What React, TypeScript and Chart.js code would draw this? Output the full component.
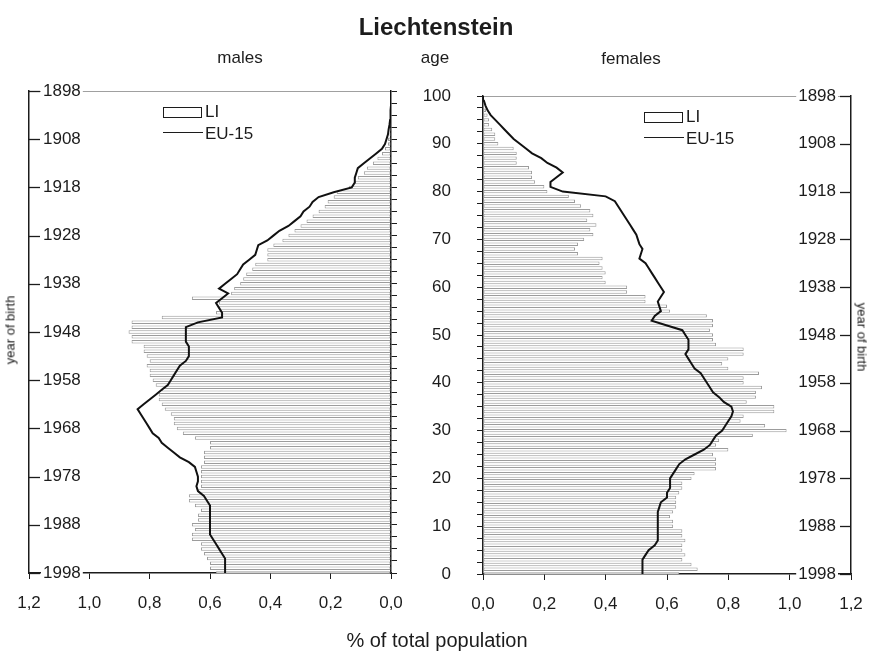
import React, { useEffect, useRef } from 'react';
import { Chart, registerables } from 'chart.js';

Chart.register(...registerables);

// ---------- data (index = age in years, 0..100) ----------
const ages: number[] = Array.from({ length: 101 }, (_, i) => i);

const malesLI: number[] = [
  0.58, 0.60, 0.60, 0.61, 0.62, 0.63, 0.63, 0.66, 0.66, 0.65,
  0.66, 0.64, 0.64, 0.63, 0.65, 0.67, 0.67, 0.64, 0.63, 0.63,
  0.63, 0.63, 0.63, 0.62, 0.62, 0.62, 0.60, 0.60, 0.65, 0.69,
  0.71, 0.72, 0.72, 0.73, 0.75, 0.76, 0.77, 0.77, 0.76, 0.78,
  0.79, 0.80, 0.80, 0.81, 0.80, 0.81, 0.82, 0.82, 0.86, 0.86,
  0.87, 0.86, 0.86, 0.76, 0.58, 0.57, 0.57, 0.66, 0.53, 0.52,
  0.50, 0.49, 0.48, 0.46, 0.45, 0.41, 0.41, 0.41, 0.39, 0.36,
  0.34, 0.32, 0.30, 0.28, 0.26, 0.24, 0.22, 0.21, 0.19, 0.18,
  0.14, 0.12, 0.11, 0.09, 0.08, 0.06, 0.045, 0.03, 0.02, 0.01,
  0.01, 0.005, 0.004, 0.003, 0.002, 0.002, 0.001, 0.001, 0, 0,
  0,
];

const malesEU15: number[] = [
  0.55, 0.55, 0.55, 0.55, 0.56, 0.57, 0.58, 0.59, 0.60, 0.60,
  0.60, 0.60, 0.60, 0.60, 0.60, 0.61, 0.62, 0.64, 0.645, 0.64,
  0.64, 0.645, 0.65, 0.67, 0.70, 0.72, 0.74, 0.76, 0.77, 0.79,
  0.80, 0.81, 0.82, 0.83, 0.84, 0.82, 0.80, 0.78, 0.76, 0.74,
  0.73, 0.72, 0.71, 0.70, 0.68, 0.67, 0.67, 0.67, 0.68, 0.68,
  0.68, 0.68, 0.64, 0.56, 0.56, 0.57, 0.58, 0.56, 0.54, 0.57,
  0.55, 0.53, 0.51, 0.50, 0.49, 0.47, 0.45, 0.445, 0.44, 0.41,
  0.39, 0.37, 0.34, 0.32, 0.30, 0.29, 0.27, 0.26, 0.24, 0.19,
  0.13, 0.12, 0.12, 0.115, 0.11, 0.09, 0.07, 0.05, 0.03, 0.02,
  0.015, 0.01, 0.008, 0.005, 0.003, 0.002, 0.001, 0, 0, 0,
  0,
];

const femalesLI: number[] = [
  0.64, 0.70, 0.68, 0.65, 0.66, 0.65, 0.65, 0.66, 0.65, 0.65,
  0.62, 0.62, 0.61, 0.62, 0.63, 0.63, 0.63, 0.64, 0.65, 0.65,
  0.68, 0.69, 0.76, 0.76, 0.76, 0.75, 0.80, 0.76, 0.77, 0.88,
  0.99, 0.92, 0.84, 0.85, 0.95, 0.95, 0.86, 0.89, 0.89, 0.91,
  0.85, 0.85, 0.90, 0.80, 0.78, 0.80, 0.85, 0.85, 0.76, 0.75,
  0.75, 0.74, 0.75, 0.75, 0.73, 0.61, 0.60, 0.53, 0.53, 0.47,
  0.47, 0.40, 0.39, 0.40, 0.39, 0.38, 0.39, 0.31, 0.30, 0.31,
  0.33, 0.36, 0.35, 0.37, 0.34, 0.36, 0.35, 0.32, 0.30, 0.28,
  0.21, 0.20, 0.17, 0.16, 0.16, 0.15, 0.11, 0.11, 0.11, 0.10,
  0.05, 0.04, 0.04, 0.03, 0.02, 0.02, 0.015, 0.01, 0.003, 0,
  0,
];

const femalesEU15: number[] = [
  0.52, 0.52, 0.52, 0.52, 0.53, 0.54, 0.56, 0.57, 0.57, 0.57,
  0.57, 0.57, 0.57, 0.57, 0.575, 0.58, 0.60, 0.60, 0.61, 0.61,
  0.61, 0.62, 0.63, 0.64, 0.66, 0.69, 0.72, 0.74, 0.75, 0.76,
  0.78, 0.79, 0.80, 0.81, 0.815, 0.81, 0.785, 0.77, 0.75, 0.74,
  0.73, 0.72, 0.71, 0.69, 0.68, 0.67, 0.66, 0.67, 0.67, 0.67,
  0.66, 0.65, 0.60, 0.55, 0.56, 0.58, 0.575, 0.57, 0.58, 0.59,
  0.58, 0.57, 0.56, 0.55, 0.54, 0.53, 0.51, 0.515, 0.52, 0.51,
  0.505, 0.50, 0.49, 0.48, 0.47, 0.46, 0.45, 0.44, 0.43, 0.40,
  0.26, 0.22, 0.22, 0.24, 0.26, 0.24, 0.21, 0.19, 0.16, 0.14,
  0.12, 0.10, 0.085, 0.07, 0.055, 0.04, 0.025, 0.015, 0.008, 0.003,
  0,
];

// tick labels
const xTickLabels: string[] = ['0,0', '0,2', '0,4', '0,6', '0,8', '1,0', '1,2'];
const ageLabels: string[] = ['0', '10', '20', '30', '40', '50', '60', '70', '80', '90', '100'];
const yearLabels: string[] = ['1998', '1988', '1978', '1968', '1958', '1948', '1938', '1928', '1918', '1908', '1898'];

const FONT = "'Liberation Sans', Arial, Helvetica, sans-serif";
const INK = '#1c1c1c';

// inward tick marks for the year-of-birth axes
const yearTickPlugin = {
  id: 'yearTicks',
  afterDraw(chart: any, _args: any, opts: any) {
    const s = chart.scales.year;
    if (!s) return;
    const ctx = chart.ctx;
    const dir = opts.dir || 1;
    const x0 = dir > 0 ? chart.chartArea.left : chart.chartArea.right;
    ctx.save();
    ctx.strokeStyle = INK;
    ctx.lineWidth = 1.3;
    s.ticks.forEach((t: any) => {
      const y = Math.round(s.getPixelForValue(t.value)) + 0.5;
      ctx.beginPath();
      ctx.moveTo(x0, y);
      ctx.lineTo(x0 + dir * 11, y);
      ctx.stroke();
    });
    ctx.restore();
  },
};

const zeroPad = (s: any) => {
  s.paddingLeft = 0;
  s.paddingRight = 0;
  s.paddingTop = 0;
  s.paddingBottom = 0;
};

function buildConfig(isLeft: boolean): any {
  const LI = isLeft ? malesLI : femalesLI;
  const EU = isLeft ? malesEU15 : femalesEU15;
  return {
    type: 'bar',
    data: {
      datasets: [
        {
          type: 'line',
          label: 'EU-15',
          data: ages.map((a, i) => ({ x: EU[i], y: a })),
          indexAxis: 'y',
          xAxisID: 'x',
          yAxisID: 'age',
          borderColor: '#111',
          borderWidth: 2,
          pointRadius: 0,
          tension: 0,
          fill: false,
          order: 0,
        },
        {
          type: 'bar',
          label: 'LI',
          data: ages.map((a, i) => ({ x: LI[i], y: a })),
          indexAxis: 'y',
          xAxisID: 'x',
          yAxisID: 'age',
          backgroundColor: '#ffffff',
          borderColor: '#9c9c9c',
          borderWidth: 1,
          borderSkipped: false,
          barPercentage: 0.72,
          categoryPercentage: 1,
          order: 1,
        },
      ],
    },
    options: {
      indexAxis: 'y',
      responsive: false,
      animation: false,
      events: [],
      layout: {
        padding: isLeft
          ? { left: 29, right: 23, top: 91, bottom: 0 }
          : { left: 0, right: 18, top: 96, bottom: 0 },
      },
      plugins: {
        legend: { display: false },
        tooltip: { enabled: false },
        yearTicks: { dir: isLeft ? 1 : -1 },
      },
      scales: {
        x: {
          type: 'linear',
          position: 'bottom',
          min: 0,
          max: 1.2,
          reverse: isLeft,
          offset: false,
          afterFit: (s: any) => {
            s.height = isLeft ? 79 : 78;
            zeroPad(s);
          },
          grid: { drawOnChartArea: false, drawTicks: true, tickLength: 6, color: INK, lineWidth: 1, offset: false },
          border: { color: INK, width: 1.5 },
          ticks: {
            stepSize: 0.2,
            padding: 14,
            color: INK,
            font: { family: FONT, size: 17 },
            maxRotation: 0,
            autoSkip: false,
            callback: (v: number) => xTickLabels[Math.round(v / 0.2)],
          },
        },
        age: {
          type: 'linear',
          axis: 'y',
          position: isLeft ? 'right' : 'left',
          min: 0,
          max: 100,
          offset: false,
          afterFit: (s: any) => {
            s.width = isLeft ? 6 : 83;
            zeroPad(s);
          },
          grid: { drawOnChartArea: false, drawTicks: true, tickLength: 6, color: INK, lineWidth: 1, offset: false },
          border: { color: INK, width: 1.5 },
          ticks: {
            stepSize: 2.5,
            autoSkip: false,
            padding: 26,
            color: INK,
            font: { family: FONT, size: 17 },
            callback: (v: number) => {
              if (isLeft) return '';
              return Math.abs(v % 10) < 1e-6 ? ageLabels[Math.round(v / 10)] : '';
            },
          },
        },
        year: {
          type: 'linear',
          axis: 'y',
          position: isLeft ? 'left' : 'right',
          min: 0,
          max: 100,
          offset: false,
          afterFit: (s: any) => {
            s.width = 0;
            zeroPad(s);
          },
          grid: {
            drawOnChartArea: true,
            drawTicks: false,
            offset: false,
            lineWidth: 1,
            color: (c: any) => (c.tick && c.tick.value === 100 ? '#a0a0a0' : 'rgba(0,0,0,0)'),
          },
          border: { color: INK, width: 1.5 },
          ticks: {
            stepSize: 10,
            autoSkip: false,
            mirror: true,
            padding: isLeft ? 14 : -15,
            z: 1,
            showLabelBackdrop: true,
            backdropColor: '#ffffff',
            backdropPadding: 2,
            color: INK,
            font: { family: FONT, size: 17 },
            callback: (v: number) => yearLabels[Math.round(v / 10)],
          },
        },
      },
    },
    plugins: [yearTickPlugin],
  };
}

type LabelProps = { x: number; y: number; text: string; size: number; bold?: boolean; rotate?: number };

function Label({ x, y, text, size, bold, rotate }: LabelProps) {
  return (
    <div
      style={{
        position: 'absolute',
        left: x,
        top: y,
        transform: `translate(-50%, -50%)${rotate ? ` rotate(${rotate}deg)` : ''}`,
        fontFamily: FONT,
        fontSize: size,
        fontWeight: bold ? 700 : 400,
        color: INK,
        whiteSpace: 'nowrap',
        lineHeight: 1,
      }}
    >
      {text}
    </div>
  );
}

function Legend({ x, y }: { x: number; y: number }) {
  const textStyle: React.CSSProperties = {
    position: 'absolute',
    fontFamily: FONT,
    fontSize: 17,
    color: INK,
    lineHeight: '18px',
    whiteSpace: 'nowrap',
  };
  return (
    <>
      <div
        style={{
          position: 'absolute',
          left: x,
          top: y,
          width: 37,
          height: 9,
          border: '1.5px solid #1c1c1c',
          background: '#fff',
        }}
      />
      <div style={{ ...textStyle, left: x + 42, top: y - 4 }}>LI</div>
      <div
        style={{
          position: 'absolute',
          left: x,
          top: y + 25,
          width: 40,
          height: 0,
          borderTop: '1.5px solid #1c1c1c',
        }}
      />
      <div style={{ ...textStyle, left: x + 42, top: y + 18 }}>EU-15</div>
    </>
  );
}

export default function App() {
  const leftRef = useRef<HTMLCanvasElement | null>(null);
  const rightRef = useRef<HTMLCanvasElement | null>(null);

  useEffect(() => {
    const charts: Chart[] = [];
    if (leftRef.current) charts.push(new Chart(leftRef.current, buildConfig(true)));
    if (rightRef.current) charts.push(new Chart(rightRef.current, buildConfig(false)));
    return () => charts.forEach((c) => c.destroy());
  }, []);

  return (
    <div
      style={{
        position: 'absolute',
        left: 0,
        top: 0,
        width: 869,
        height: 652,
        background: '#ffffff',
        overflow: 'hidden',
      }}
    >
      <canvas
        ref={leftRef}
        width={420}
        height={652}
        style={{ position: 'absolute', left: 0, top: 0, width: 420, height: 652 }}
      />
      <canvas
        ref={rightRef}
        width={469}
        height={652}
        style={{ position: 'absolute', left: 400, top: 0, width: 469, height: 652 }}
      />
      <Label x={436} y={27} text="Liechtenstein" size={24} bold />
      <Label x={240} y={57} text="males" size={17} />
      <Label x={435} y={57} text="age" size={17} />
      <Label x={631} y={58} text="females" size={17} />
      <Label x={437} y={640} text="% of total population" size={20} />
      <Label x={10} y={330} text="year of birth" size={13} rotate={-90} />
      <Label x={862} y={337} text="year of birth" size={13} rotate={90} />
      <Legend x={163} y={107} />
      <Legend x={644} y={112} />
    </div>
  );
}
